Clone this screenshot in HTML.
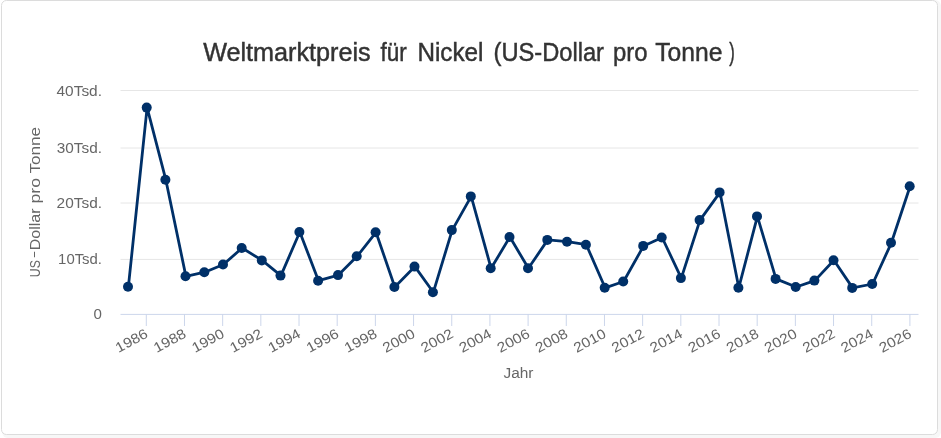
<!DOCTYPE html>
<html><head><meta charset="utf-8">
<style>
html,body{margin:0;padding:0;background:#fff;}
body{width:941px;height:438px;overflow:hidden;position:relative;}
svg{position:absolute;left:0;top:0;will-change:transform;}
text{font-family:"Liberation Sans",sans-serif;}
</style></head><body>
<svg width="941" height="438" viewBox="0 0 941 438">
<rect x="0" y="0" width="941" height="438" fill="#ffffff"/>
<rect x="2" y="0" width="939" height="438" rx="6" ry="6" fill="#f7f7f7"/>
<rect x="1.5" y="0.5" width="936" height="434" rx="5" ry="5" fill="#ffffff" stroke="#dcdcdc" stroke-width="1"/>
<g font-size="25" fill="#333333" stroke="#333333" stroke-width="0.45">
<text x="203.2" y="60.7" textLength="167.5" lengthAdjust="spacingAndGlyphs">Weltmarktpreis</text>
<text x="380.6" y="60.7" textLength="26.2" lengthAdjust="spacingAndGlyphs">für</text>
<text x="417.4" y="60.7" textLength="66" lengthAdjust="spacingAndGlyphs">Nickel</text>
<text x="493.5" y="60.7" textLength="110.5" lengthAdjust="spacingAndGlyphs">(US-Dollar</text>
<text x="613" y="60.7" textLength="34.5" lengthAdjust="spacingAndGlyphs">pro</text>
<text x="655.2" y="60.7" textLength="67.2" lengthAdjust="spacingAndGlyphs">Tonne</text>
<text x="729.3" y="60.7" textLength="5.5" lengthAdjust="spacingAndGlyphs">)</text>
</g>
<g stroke="#e6e6e6" stroke-width="1" fill="none">
<path d="M 120.5 90.5 L 918.5 90.5"/>
<path d="M 120.5 148.0 L 918.5 148.0"/>
<path d="M 120.5 203.0 L 918.5 203.0"/>
<path d="M 120.5 259.4 L 918.5 259.4"/>
</g>
<path d="M 120.5 314.4 L 918.5 314.4" stroke="#ccd6eb" stroke-width="1" fill="none"/>
<g stroke="#ccd6eb" stroke-width="1" fill="none">
<path d="M 146.3 314 L 146.3 326"/><path d="M 184.48 314 L 184.48 326"/><path d="M 222.66 314 L 222.66 326"/><path d="M 260.84 314 L 260.84 326"/><path d="M 299.02 314 L 299.02 326"/><path d="M 337.2 314 L 337.2 326"/><path d="M 375.38 314 L 375.38 326"/><path d="M 413.56 314 L 413.56 326"/><path d="M 451.74 314 L 451.74 326"/><path d="M 489.92 314 L 489.92 326"/><path d="M 528.1 314 L 528.1 326"/><path d="M 566.28 314 L 566.28 326"/><path d="M 604.46 314 L 604.46 326"/><path d="M 642.64 314 L 642.64 326"/><path d="M 680.82 314 L 680.82 326"/><path d="M 719.0 314 L 719.0 326"/><path d="M 757.18 314 L 757.18 326"/><path d="M 795.36 314 L 795.36 326"/><path d="M 833.54 314 L 833.54 326"/><path d="M 871.72 314 L 871.72 326"/><path d="M 909.9 314 L 909.9 326"/>
</g>
<g font-size="14" fill="#666666">
<text x="102" y="95.7" text-anchor="end" textLength="45.5" lengthAdjust="spacingAndGlyphs">40Tsd.</text>
<text x="102" y="152.9" text-anchor="end" textLength="45.2" lengthAdjust="spacingAndGlyphs">30Tsd.</text>
<text x="102" y="207.9" text-anchor="end" textLength="45.4" lengthAdjust="spacingAndGlyphs">20Tsd.</text>
<text x="102" y="263.9" text-anchor="end" textLength="43.9" lengthAdjust="spacingAndGlyphs">10Tsd.</text>
<text x="102" y="318.9" text-anchor="end" textLength="8.4" lengthAdjust="spacingAndGlyphs">0</text>
</g>
<g font-size="14" fill="#666666">
<text x="149.00" y="336.7" text-anchor="end" textLength="34.5" lengthAdjust="spacingAndGlyphs" transform="rotate(-28 149.00 336.7)">1986</text><text x="187.18" y="336.7" text-anchor="end" textLength="34.5" lengthAdjust="spacingAndGlyphs" transform="rotate(-28 187.18 336.7)">1988</text><text x="225.36" y="336.7" text-anchor="end" textLength="34.5" lengthAdjust="spacingAndGlyphs" transform="rotate(-28 225.36 336.7)">1990</text><text x="263.54" y="336.7" text-anchor="end" textLength="34.5" lengthAdjust="spacingAndGlyphs" transform="rotate(-28 263.54 336.7)">1992</text><text x="301.72" y="336.7" text-anchor="end" textLength="34.5" lengthAdjust="spacingAndGlyphs" transform="rotate(-28 301.72 336.7)">1994</text><text x="339.90" y="336.7" text-anchor="end" textLength="34.5" lengthAdjust="spacingAndGlyphs" transform="rotate(-28 339.90 336.7)">1996</text><text x="378.08" y="336.7" text-anchor="end" textLength="34.5" lengthAdjust="spacingAndGlyphs" transform="rotate(-28 378.08 336.7)">1998</text><text x="416.26" y="336.7" text-anchor="end" textLength="34.5" lengthAdjust="spacingAndGlyphs" transform="rotate(-28 416.26 336.7)">2000</text><text x="454.44" y="336.7" text-anchor="end" textLength="34.5" lengthAdjust="spacingAndGlyphs" transform="rotate(-28 454.44 336.7)">2002</text><text x="492.62" y="336.7" text-anchor="end" textLength="34.5" lengthAdjust="spacingAndGlyphs" transform="rotate(-28 492.62 336.7)">2004</text><text x="530.80" y="336.7" text-anchor="end" textLength="34.5" lengthAdjust="spacingAndGlyphs" transform="rotate(-28 530.80 336.7)">2006</text><text x="568.98" y="336.7" text-anchor="end" textLength="34.5" lengthAdjust="spacingAndGlyphs" transform="rotate(-28 568.98 336.7)">2008</text><text x="607.16" y="336.7" text-anchor="end" textLength="34.5" lengthAdjust="spacingAndGlyphs" transform="rotate(-28 607.16 336.7)">2010</text><text x="645.34" y="336.7" text-anchor="end" textLength="34.5" lengthAdjust="spacingAndGlyphs" transform="rotate(-28 645.34 336.7)">2012</text><text x="683.52" y="336.7" text-anchor="end" textLength="34.5" lengthAdjust="spacingAndGlyphs" transform="rotate(-28 683.52 336.7)">2014</text><text x="721.70" y="336.7" text-anchor="end" textLength="34.5" lengthAdjust="spacingAndGlyphs" transform="rotate(-28 721.70 336.7)">2016</text><text x="759.88" y="336.7" text-anchor="end" textLength="34.5" lengthAdjust="spacingAndGlyphs" transform="rotate(-28 759.88 336.7)">2018</text><text x="798.06" y="336.7" text-anchor="end" textLength="34.5" lengthAdjust="spacingAndGlyphs" transform="rotate(-28 798.06 336.7)">2020</text><text x="836.24" y="336.7" text-anchor="end" textLength="34.5" lengthAdjust="spacingAndGlyphs" transform="rotate(-28 836.24 336.7)">2022</text><text x="874.42" y="336.7" text-anchor="end" textLength="34.5" lengthAdjust="spacingAndGlyphs" transform="rotate(-28 874.42 336.7)">2024</text><text x="912.60" y="336.7" text-anchor="end" textLength="34.5" lengthAdjust="spacingAndGlyphs" transform="rotate(-28 912.60 336.7)">2026</text>
</g>
<g font-size="15" fill="#666666" transform="rotate(-90)">
<text x="-173.5" y="39.6" textLength="46.5" lengthAdjust="spacingAndGlyphs">Tonne</text>
<text x="-203.6" y="39.6" textLength="25.6" lengthAdjust="spacingAndGlyphs">pro</text>
<text x="-250.3" y="39.6" textLength="41.8" lengthAdjust="spacingAndGlyphs">Dollar</text>
<text x="-257.2" y="38.3" textLength="5.6" lengthAdjust="spacingAndGlyphs">–</text>
<text x="-277.2" y="39.6" textLength="17" lengthAdjust="spacingAndGlyphs">US</text>
</g>
<text x="518.5" y="377.8" font-size="15.5" fill="#666666" text-anchor="middle" textLength="30" lengthAdjust="spacingAndGlyphs">Jahr</text>
<path d="M 128.40 286.70 L 147.10 107.60 L 165.80 179.70 L 185.90 276.30 L 204.70 272.20 L 223.40 264.50 L 242.10 248.00 L 262.20 260.40 L 280.90 275.60 L 299.80 232.00 L 318.50 280.70 L 338.40 275.10 L 357.10 256.30 L 376.00 232.30 L 394.80 287.00 L 414.90 266.60 L 433.30 292.30 L 452.20 230.10 L 471.20 196.40 L 491.10 268.30 L 509.90 237.00 L 528.40 268.30 L 547.70 239.90 L 567.40 241.70 L 586.30 244.70 L 605.10 287.80 L 623.60 281.50 L 643.60 245.90 L 662.10 237.50 L 681.30 278.10 L 700.00 220.10 L 720.00 192.40 L 738.80 287.70 L 757.40 216.40 L 776.00 278.90 L 796.10 287.00 L 814.80 280.60 L 833.90 260.20 L 852.60 287.90 L 872.60 284.00 L 891.40 242.80 L 910.10 186.30" fill="none" stroke="#003068" stroke-width="2.8" stroke-linejoin="round" stroke-linecap="round"/>
<g fill="#003068">
<circle cx="128.00" cy="286.70" r="5"/>
<circle cx="146.70" cy="107.60" r="5"/>
<circle cx="165.40" cy="179.70" r="5"/>
<circle cx="185.50" cy="276.30" r="5"/>
<circle cx="204.30" cy="272.20" r="5"/>
<circle cx="223.00" cy="264.50" r="5"/>
<circle cx="241.70" cy="248.00" r="5"/>
<circle cx="261.80" cy="260.40" r="5"/>
<circle cx="280.50" cy="275.60" r="5"/>
<circle cx="299.40" cy="232.00" r="5"/>
<circle cx="318.10" cy="280.70" r="5"/>
<circle cx="338.00" cy="275.10" r="5"/>
<circle cx="356.70" cy="256.30" r="5"/>
<circle cx="375.60" cy="232.30" r="5"/>
<circle cx="394.40" cy="287.00" r="5"/>
<circle cx="414.50" cy="266.60" r="5"/>
<circle cx="432.90" cy="292.30" r="5"/>
<circle cx="451.80" cy="230.10" r="5"/>
<circle cx="470.80" cy="196.40" r="5"/>
<circle cx="490.70" cy="268.30" r="5"/>
<circle cx="509.50" cy="237.00" r="5"/>
<circle cx="528.00" cy="268.30" r="5"/>
<circle cx="547.30" cy="239.90" r="5"/>
<circle cx="567.00" cy="241.70" r="5"/>
<circle cx="585.90" cy="244.70" r="5"/>
<circle cx="604.70" cy="287.80" r="5"/>
<circle cx="623.20" cy="281.50" r="5"/>
<circle cx="643.20" cy="245.90" r="5"/>
<circle cx="661.70" cy="237.50" r="5"/>
<circle cx="680.90" cy="278.10" r="5"/>
<circle cx="699.60" cy="220.10" r="5"/>
<circle cx="719.60" cy="192.40" r="5"/>
<circle cx="738.40" cy="287.70" r="5"/>
<circle cx="757.00" cy="216.40" r="5"/>
<circle cx="775.60" cy="278.90" r="5"/>
<circle cx="795.70" cy="287.00" r="5"/>
<circle cx="814.40" cy="280.60" r="5"/>
<circle cx="833.50" cy="260.20" r="5"/>
<circle cx="852.20" cy="287.90" r="5"/>
<circle cx="872.20" cy="284.00" r="5"/>
<circle cx="891.00" cy="242.80" r="5"/>
<circle cx="909.70" cy="186.30" r="5"/>
</g>
</svg>
</body></html>
